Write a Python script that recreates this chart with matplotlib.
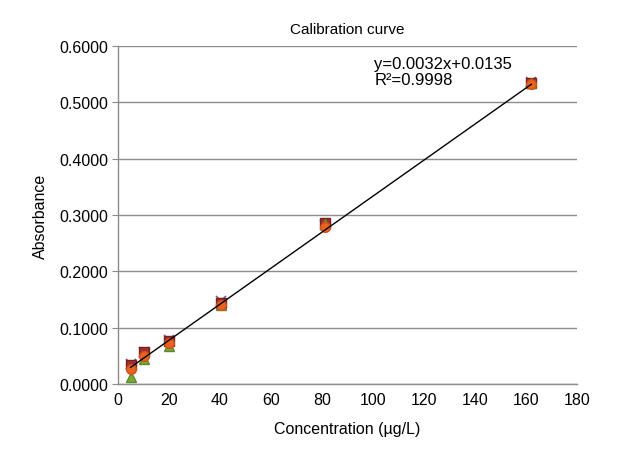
import matplotlib
matplotlib.use("Agg")
import matplotlib.pyplot as plt
import numpy as np

plt.rcParams['font.family'] = ['Liberation Sans', 'DejaVu Sans']

# concentrations (µg/L) and replicate absorbance readings
conc = [5.06, 10.125, 20.25, 40.5, 81, 162]
rep_square = [0.034, 0.057, 0.077, 0.143, 0.286, 0.535]
rep_triangle = [0.012, 0.045, 0.068, 0.140, 0.284, 0.534]
rep_cross = [0.036, 0.056, 0.079, 0.147, 0.283, 0.536]
rep_circle = [0.026, 0.049, 0.072, 0.141, 0.278, 0.532]

# trendline reported on the chart
slope = 0.0032
intercept = 0.0135
r2 = 0.9998

fs = 11

fig = plt.figure(figsize=(6.2, 4.6), dpi=100)
ax = fig.add_axes([0.190, 0.163, 0.741, 0.735])

ax.plot(conc, rep_cross, 'x', color='#7a5ea8', ms=7, mew=1.3, zorder=3)
ax.plot(conc, rep_square, 's', color='#a0302e', mec='#7a2020', ms=7.5, zorder=3)
ax.plot(conc, rep_triangle, '^', color='#77a83a', mec='#5f8a2a', ms=7.5, zorder=3)
ax.plot(conc, rep_circle, 'o', color='#e8641e', mec='#d0501a', ms=7, zorder=4)

xfit = np.array([conc[0], conc[-1]])
ax.plot(xfit, slope * xfit + intercept, color='black', lw=1.0, zorder=5)

ax.text(100.5, 0.582, f'y={slope}x+{intercept}\nR²={r2}', fontsize=fs + 1,
        va='top', ha='left', linespacing=1.05)

ax.set_xlim(0, 180)
ax.set_ylim(0, 0.6)
ax.set_xticks(np.arange(0, 181, 20))
ax.set_yticks(np.arange(0, 0.61, 0.1))
ax.yaxis.set_major_formatter(matplotlib.ticker.FormatStrFormatter('%.4f'))
ax.grid(axis='y', color='#8c8c8c', lw=1.0)
ax.set_axisbelow(True)
for s in ['top', 'right']:
    ax.spines[s].set_visible(False)
for s in ['left', 'bottom']:
    ax.spines[s].set_color('#8c8c8c')
    ax.spines[s].set_linewidth(1.0)
ax.tick_params(axis='x', length=0, pad=6, labelsize=fs + 0.5)
ax.tick_params(axis='y', length=4, color='#8c8c8c', pad=3, labelsize=fs + 0.5)

ax.set_title('Calibration curve', fontsize=fs, pad=9)
ax.set_xlabel('Concentration (µg/L)', fontsize=fs + 0.5, labelpad=10)
ax.set_ylabel('Absorbance', fontsize=fs + 0.5, labelpad=8)

fig.savefig('out.png', dpi=100)
